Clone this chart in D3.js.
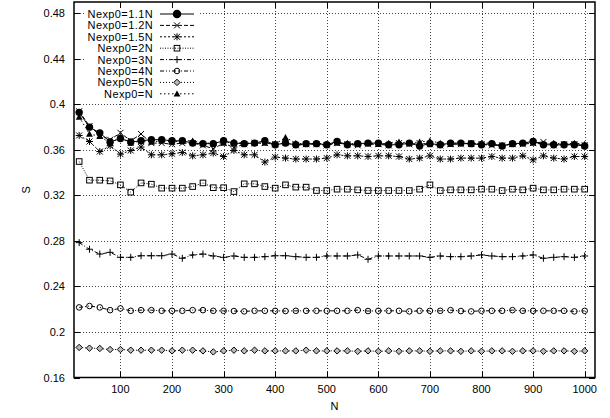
<!DOCTYPE html>
<html><head><meta charset="utf-8">
<script src="https://cdn.jsdelivr.net/npm/d3@7"></script>
<style>
html,body{margin:0;padding:0;background:#fff;}
text{font-family:"Liberation Sans",Arial,Helvetica,sans-serif;font-size:11px;fill:#000;}
text.lg{font-size:11px;letter-spacing:0.4px;}
</style></head>
<body><svg id="c" width="610" height="418"></svg>
<script>
const Nvals = [20,40,60,80,100,120,140,160,180,200,220,240,260,280,300,320,340,360,380,400,
420,440,460,480,500,520,540,560,580,600,620,640,660,680,700,720,740,760,780,800,
820,840,860,880,900,920,940,960,980,1000];

const s11 = [0.393,0.380,0.375,0.367,0.370,0.367,0.368,0.369,0.369,0.368,
0.368,0.366,0.3655,0.3655,0.368,0.366,0.3655,0.366,0.368,0.3645,
0.366,0.3645,0.3655,0.3655,0.3645,0.3675,0.3645,0.3655,0.366,0.366,
0.3645,0.3645,0.366,0.3635,0.3655,0.3645,0.366,0.366,0.3655,0.3645,
0.3655,0.3635,0.3655,0.366,0.3675,0.3645,0.3645,0.3645,0.3645,0.3635];
const s12 = [0.394,0.381,0.373,0.369,0.375,0.368,0.374,0.366,0.366,0.365,
0.366,0.366,0.364,0.361,0.366,0.362,0.365,0.366,0.366,0.365,
0.366,0.364,0.365,0.365,0.364,0.366,0.365,0.364,0.365,0.365,
0.364,0.366,0.365,0.366,0.365,0.364,0.365,0.365,0.366,0.365,
0.364,0.364,0.365,0.365,0.366,0.367,0.364,0.365,0.365,0.364];
const s15 = [0.3727,0.3674,0.3586,0.3636,0.3563,0.3595,0.3625,0.3557,0.3557,0.3566,
0.3577,0.3548,0.3557,0.3572,0.3542,0.3595,0.3557,0.3557,0.3493,0.3537,
0.3528,0.352,0.352,0.352,0.3528,0.3557,0.3548,0.3548,0.3542,0.3548,
0.3548,0.3542,0.352,0.3528,0.3548,0.352,0.352,0.3528,0.3528,0.3528,
0.3542,0.3528,0.3528,0.3548,0.3513,0.3548,0.3528,0.352,0.3542,0.3542];
const s2 = [0.3498,0.3334,0.3334,0.3328,0.3293,0.3229,0.331,0.3299,0.3264,0.3264,
0.3264,0.3278,0.331,0.3268,0.3268,0.3234,0.3302,0.3302,0.3278,0.3264,
0.3293,0.3273,0.3273,0.3243,0.3243,0.3255,0.3255,0.3249,0.3243,0.3243,
0.3243,0.3243,0.3243,0.3255,0.3293,0.3243,0.3249,0.3249,0.3249,0.3255,
0.3255,0.3243,0.3255,0.3249,0.3264,0.3249,0.3249,0.3255,0.3255,0.3255];
const s3 = [0.2785,0.2727,0.2685,0.27,0.2656,0.2656,0.267,0.267,0.267,0.2685,
0.2648,0.2677,0.2685,0.2668,0.2656,0.2668,0.2656,0.2656,0.2662,0.267,
0.267,0.2662,0.2656,0.2656,0.2668,0.2668,0.2668,0.2677,0.2639,0.2668,
0.2668,0.2668,0.2668,0.2668,0.2656,0.2668,0.2662,0.2662,0.2668,0.2677,
0.2668,0.2662,0.2662,0.2668,0.2677,0.2648,0.2656,0.2662,0.2656,0.2668];
const s4 = [0.2216,0.2228,0.2216,0.2192,0.2207,0.2186,0.2192,0.2192,0.2186,0.2186,
0.2186,0.2192,0.2192,0.2186,0.2186,0.2184,0.2181,0.2186,0.2186,0.2186,
0.2184,0.2186,0.2186,0.2186,0.2186,0.2186,0.2186,0.2192,0.2184,0.2186,
0.2186,0.2186,0.2181,0.2186,0.2186,0.2186,0.2192,0.2184,0.2181,0.2186,
0.2186,0.2186,0.2192,0.2186,0.2186,0.2186,0.2186,0.2186,0.2181,0.2186];
const s5 = [0.1864,0.1858,0.1855,0.1846,0.1846,0.184,0.184,0.184,0.184,0.1834,
0.184,0.184,0.1834,0.1825,0.1834,0.184,0.1834,0.184,0.1834,0.1834,
0.1834,0.1834,0.184,0.1834,0.1834,0.1834,0.1834,0.183,0.1834,0.183,
0.1834,0.183,0.1834,0.1834,0.183,0.1834,0.1834,0.183,0.1834,0.183,
0.1834,0.1834,0.183,0.1834,0.1834,0.183,0.1834,0.1834,0.183,0.1834];
const sN = [0.389,0.374,0.372,0.366,0.371,0.366,0.368,0.367,0.368,0.367,
0.368,0.368,0.366,0.366,0.366,0.367,0.366,0.366,0.366,0.365,
0.371,0.366,0.365,0.366,0.365,0.366,0.366,0.365,0.366,0.365,
0.366,0.367,0.366,0.367,0.368,0.366,0.365,0.366,0.365,0.366,
0.366,0.364,0.365,0.366,0.366,0.365,0.366,0.365,0.366,0.365];

const seriesNames = ["Nexp0=1.1N","Nexp0=1.2N","Nexp0=1.5N","Nexp0=2N","Nexp0=3N","Nexp0=4N","Nexp0=5N","Nexp0=N"];
const seriesValues = [s11,s12,s15,s2,s3,s4,s5,sN];
const xTicks = [100,200,300,400,500,600,700,800,900,1000];
const yTicks = [0.16,0.2,0.24,0.28,0.32,0.36,0.4,0.44,0.48];

const styles = [
 {dash:null, marker:"fcircle"},
 {dash:"4,2", marker:"x"},
 {dash:"2,2", marker:"star"},
 {dash:"1,1.5", marker:"square"},
 {dash:"4,2,1,2", marker:"plus"},
 {dash:"4,2,1,2,1,2", marker:"ocircle"},
 {dash:"1,2", marker:"diamond"},
 {dash:"1.5,2.5", marker:"ftriangle"}
];

const svg = d3.select("#c");
const L=74, R=595, T=2, B=377.5;
const x = d3.scaleLinear().domain([10,1020]).range([L,R]);
const y = d3.scaleLinear().domain([0.16,0.49]).range([B,T]);

// grid
const grid = svg.append("g");
xTicks.forEach(t=>{
  grid.append("line").attr("x1",Math.round(x(t))+0.5).attr("x2",Math.round(x(t))+0.5)
   .attr("y1",T).attr("y2",B).attr("stroke","#444").attr("stroke-width",1).attr("stroke-dasharray","1,2");
});
yTicks.filter(t=>t>0.17).forEach(t=>{
  grid.append("line").attr("y1",Math.round(y(t))+0.5).attr("y2",Math.round(y(t))+0.5)
   .attr("x1",L).attr("x2",R).attr("stroke","#444").attr("stroke-width",1).attr("stroke-dasharray","1,2");
});

function drawMarker(g, type, cx, cy, big){
  const s = big ? 1.15 : 1;
  const st = {stroke:"#000","stroke-width":1,fill:"none"};
  function ap(el){ for(const k in st) el.attr(k,st[k]); return el; }
  switch(type){
    case "fcircle": g.append("circle").attr("cx",cx).attr("cy",cy).attr("r",3.7*s).attr("fill","#000"); break;
    case "ocircle": ap(g.append("circle").attr("cx",cx).attr("cy",cy).attr("r",2.8*s)); break;
    case "square": ap(g.append("rect").attr("x",cx-2.8*s).attr("y",cy-2.8*s).attr("width",5.6*s).attr("height",5.6*s)); break;
    case "x": { const d=3*s; ap(g.append("path").attr("d",`M${cx-d},${cy-d}L${cx+d},${cy+d}M${cx-d},${cy+d}L${cx+d},${cy-d}`)); break; }
    case "plus": { const d=3.5*s; ap(g.append("path").attr("d",`M${cx-d},${cy}L${cx+d},${cy}M${cx},${cy-d}L${cx},${cy+d}`)); break; }
    case "star": { const d=3*s, e=3.5*s; ap(g.append("path").attr("stroke-width",1.3).attr("d",`M${cx-d},${cy-d}L${cx+d},${cy+d}M${cx-d},${cy+d}L${cx+d},${cy-d}M${cx-e},${cy}L${cx+e},${cy}M${cx},${cy-e}L${cx},${cy+e}`)); break; }
    case "diamond": { const d=3.2*s; ap(g.append("path").attr("d",`M${cx},${cy-d}L${cx+d},${cy}L${cx},${cy+d}L${cx-d},${cy}Z`)).attr("fill","#bbb"); break; }
    case "ftriangle": { const d=3.4*s; g.append("path").attr("d",`M${cx},${cy-d}L${cx+d},${cy+d*0.8}L${cx-d},${cy+d*0.8}Z`).attr("fill","#000"); break; }
  }
}

// data
const line = d3.line().x((d,i)=>x(Nvals[i])).y(d=>y(d));
const plot = svg.append("g");
seriesValues.forEach((vals,k)=>{
  const p = plot.append("path").datum(vals).attr("d",line).attr("fill","none")
    .attr("stroke","#000").attr("stroke-width",1);
  if(styles[k].dash) p.attr("stroke-dasharray",styles[k].dash);
  const mg = plot.append("g");
  vals.forEach((v,i)=>drawMarker(mg, styles[k].marker, x(Nvals[i]), y(v), false));
});

// legend
const lg = svg.append("g");
lg.append("rect").attr("x",84).attr("y",3).attr("width",114).attr("height",98).attr("fill","#fff");
const rowY = [14,25.4,36.8,48.2,59.6,71,82.4,93.8];
seriesNames.forEach((nm,k)=>{
  const yy = rowY[k];
  lg.append("text").attr("class","lg").attr("x",153).attr("y",yy+4).attr("text-anchor","end").text(nm);
  const ln = lg.append("line").attr("x1",160).attr("x2",194).attr("y1",yy).attr("y2",yy)
    .attr("stroke","#000").attr("stroke-width",1);
  if(styles[k].dash) ln.attr("stroke-dasharray",styles[k].dash);
  drawMarker(lg, styles[k].marker, 177, yy, k===0);
});

// frame and ticks
const fr = svg.append("g");
fr.append("rect").attr("x",L).attr("y",T).attr("width",R-L).attr("height",B-T)
  .attr("fill","none").attr("stroke","#000").attr("stroke-width",1.5);
xTicks.forEach(t=>{
  const xx = Math.round(x(t))+0.5;
  fr.append("line").attr("x1",xx).attr("x2",xx).attr("y1",B).attr("y2",B-6).attr("stroke","#000");
  fr.append("line").attr("x1",xx).attr("x2",xx).attr("y1",T).attr("y2",T+6).attr("stroke","#000");
  fr.append("text").attr("x",x(t)).attr("y",393).attr("text-anchor","middle").text(t);
});
yTicks.forEach(t=>{
  const yy = Math.round(y(t))+0.5;
  fr.append("line").attr("x1",L).attr("x2",L+6).attr("y1",yy).attr("y2",yy).attr("stroke","#000");
  fr.append("line").attr("x1",R).attr("x2",R-6).attr("y1",yy).attr("y2",yy).attr("stroke","#000");
  fr.append("text").attr("x",65).attr("y",y(t)+4).attr("text-anchor","end").text(d3.format("")(+t.toFixed(2)));
});
svg.append("text").attr("x",(L+R)/2).attr("y",410).attr("text-anchor","middle").text("N");
svg.append("text").attr("transform",`translate(30,${(T+B)/2}) rotate(-90)`).attr("text-anchor","middle").text("S");
</script></body></html>
